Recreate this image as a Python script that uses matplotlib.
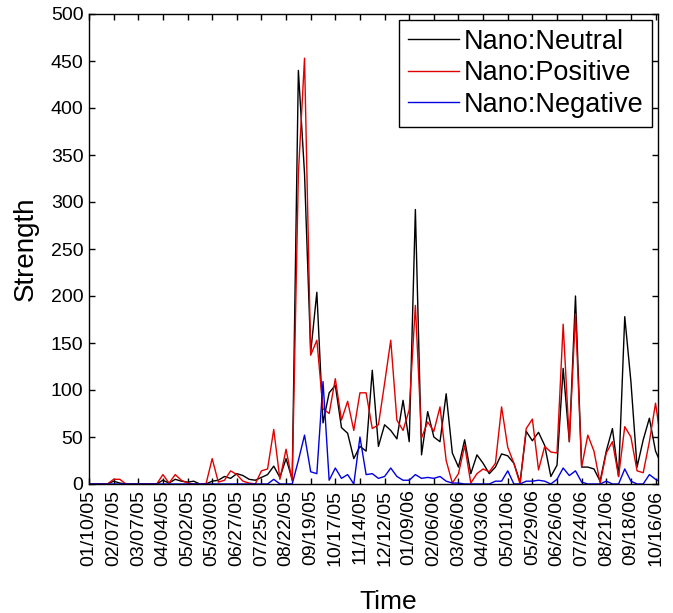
import matplotlib
matplotlib.use("Agg")
import matplotlib.pyplot as plt
import numpy as np

plt.rcParams["font.family"] = ["Liberation Sans", "DejaVu Sans"]

# weekly strength values, week 0 = 01/10/05
neutral = [0, 0, 0, 0, 3, 1, 0, 0, 0, 0,
           0, 0, 4, 1, 5, 3, 2, 3, 0, 0,
           3, 4, 8, 6, 11, 9, 5, 4, 7, 10,
           19, 7, 27, 5, 440, 330, 140, 204, 65, 97,
           105, 60, 54, 27, 40, 35, 121, 40, 63, 57,
           48, 89, 45, 292, 31, 77, 50, 45, 96, 33,
           18, 47, 11, 31, 22, 11, 18, 32, 30, 22,
           2, 56, 46, 55, 41, 8, 20, 123, 45, 200,
           18, 18, 16, 3, 35, 59, 8, 178, 109, 18,
           47, 70, 35, 20]
positive = [0, 0, 0, 0, 5, 5, 0, 0, 0, 0,
            0, 0, 10, 1, 10, 4, 1, 0, 0, 0,
            27, 2, 4, 14, 10, 3, 1, 0, 14, 16,
            58, 5, 37, 3, 330, 453, 137, 153, 80, 75,
            112, 68, 88, 57, 97, 97, 59, 63, 107, 153,
            68, 57, 79, 190, 49, 66, 56, 82, 25, 1,
            11, 41, 1, 11, 16, 13, 22, 82, 39, 22,
            0, 59, 69, 15, 40, 34, 33, 170, 45, 181,
            18, 52, 35, 1, 33, 45, 8, 61, 50, 14,
            12, 45, 86, 40]
negative = [0, 0, 0, 0, 0, 0, 0, 0, 0, 0,
            0, 0, 0, 0, 0, 0, 0, 0, 0, 0,
            0, 0, 0, 0, 0, 0, 0, 0, 0, 0,
            5, 0, 0, 0, 25, 52, 13, 11, 109, 4,
            17, 6, 10, 0, 50, 10, 11, 6, 8, 17,
            8, 4, 4, 10, 6, 7, 6, 8, 3, 1,
            1, 0, 0, 0, 0, 0, 3, 3, 14, 0,
            0, 3, 3, 4, 3, 0, 5, 17, 9, 14,
            2, 0, 0, 0, 3, 0, 0, 16, 3, 0,
            0, 10, 5, 2]

tick_labels = ["01/10/05", "02/07/05", "03/07/05", "04/04/05", "05/02/05",
               "05/30/05", "06/27/05", "07/25/05", "08/22/05", "09/19/05",
               "10/17/05", "11/14/05", "12/12/05", "01/09/06", "02/06/06",
               "03/06/06", "04/03/06", "05/01/06", "05/29/06", "06/26/06",
               "07/24/06", "08/21/06", "09/18/06", "10/16/06"]

weeks = np.arange(len(neutral))

fig = plt.figure(figsize=(6.73, 6.13), dpi=100)
ax = fig.add_axes([89 / 673, 1 - 484 / 613, 569 / 673, 470 / 613])

ax.plot(weeks, neutral, color="black", linewidth=1.0, label="Nano:Neutral")
ax.plot(weeks, positive, color="#e00000", linewidth=1.0, label="Nano:Positive")
ax.plot(weeks, negative, color="#0000e0", linewidth=1.0, label="Nano:Negative")

ax.set_xlim(0, 92.4)
ax.set_ylim(0, 500)
ax.set_yticks(np.arange(0, 501, 50))
ax.set_xticks(np.arange(0, 4 * len(tick_labels), 4))
ax.set_xticklabels(tick_labels, rotation=90)

ax.tick_params(direction="in", length=4, width=1, top=True, right=True,
               labelsize=14, pad=4)
for s in ax.spines.values():
    s.set_linewidth(1.0)

ax.set_xlabel("Time", fontsize=19)
ax.set_ylabel("Strength", fontsize=20)
ax.xaxis.set_label_coords(0.525, -0.225)
ax.yaxis.set_label_coords(-0.088, 0.5)

leg = ax.legend(loc="upper right", fontsize=19.5, frameon=True, fancybox=False,
                edgecolor="black", framealpha=1, handlelength=1.9,
                handletextpad=0.15, labelspacing=0.2, borderpad=0.33,
                borderaxespad=0.22)
leg.get_frame().set_linewidth(1.0)

plt.savefig("out.png", dpi=100)
plt.close()
